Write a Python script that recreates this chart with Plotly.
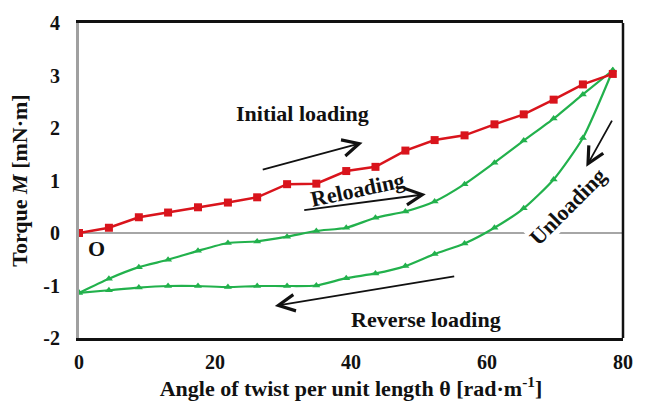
import plotly.graph_objects as go

# Twist angle per unit length (rad/m) at each measurement step
theta = [0, 4.4, 8.8, 13.1, 17.5, 21.9, 26.2, 30.6, 34.9, 39.3,
         43.6, 48.0, 52.3, 56.7, 61.1, 65.4, 69.8, 74.1, 78.5]

# Torque (mN·m) for each branch of the loading cycle
initial_loading = [0.00, 0.10, 0.30, 0.39, 0.49, 0.58, 0.68, 0.93, 0.94, 1.18,
                   1.26, 1.57, 1.77, 1.86, 2.07, 2.26, 2.54, 2.83, 3.03]
reloading = [-1.14, -0.87, -0.65, -0.51, -0.34, -0.19, -0.16, -0.07, 0.04, 0.10,
             0.29, 0.41, 0.60, 0.93, 1.34, 1.76, 2.18, 2.64, 3.10]
unload_reverse = [-1.14, -1.09, -1.04, -1.01, -1.01, -1.03, -1.01, -1.01, -1.00, -0.86,
                  -0.77, -0.63, -0.40, -0.20, 0.10, 0.47, 1.02, 1.81, 3.10]

RED = "#d9141c"
GREEN = "#22b14c"
FONT = "Liberation Serif"

fig = go.Figure()

fig.add_trace(go.Scatter(
    x=theta, y=unload_reverse, mode="lines+markers",
    line=dict(color=GREEN, width=2.2, shape="spline", smoothing=0.6),
    marker=dict(symbol="triangle-up", size=7, color=GREEN),
    showlegend=False, hoverinfo="skip"))
fig.add_trace(go.Scatter(
    x=theta, y=reloading, mode="lines+markers",
    line=dict(color=GREEN, width=2.2, shape="spline", smoothing=0.6),
    marker=dict(symbol="triangle-up", size=7, color=GREEN),
    showlegend=False, hoverinfo="skip"))
fig.add_trace(go.Scatter(
    x=theta, y=initial_loading, mode="lines+markers",
    line=dict(color=RED, width=2.5),
    marker=dict(symbol="square", size=8, color=RED),
    showlegend=False, hoverinfo="skip"))

# Branch labels: (text, x, y, angle)
labels = [
    ("Initial loading", 32.9, 2.27, 0),
    ("Reloading", 41.0, 0.83, -12),
    ("Unloading", 71.9, 0.50, -45),
    ("Reverse loading", 51.0, -1.64, 0),
    ("O", 2.6, -0.29, 0),
]
for txt, x, y, ang in labels:
    fig.add_annotation(x=x, y=y, xref="x", yref="y", text=f"<b>{txt}</b>",
                       showarrow=False, textangle=ang, borderpad=0,
                       bgcolor="white" if txt == "Unloading" else None,
                       font=dict(family=FONT, size=22, color="#111111"))

# Direction arrows: (tip x, tip y, tail x, tail y)
arrows = [
    (41.7, 1.72, 26.8, 1.20),
    (51.0, 0.74, 32.9, 0.43),
    (74.6, 1.26, 78.5, 2.17),
    (28.8, -1.39, 55.4, -0.82),
]
for tx, ty, sx, sy in arrows:
    fig.add_annotation(x=tx, y=ty, ax=sx, ay=sy, xref="x", yref="y",
                       axref="x", ayref="y", text="", showarrow=True,
                       arrowhead=5, arrowsize=1.8, arrowwidth=1.8,
                       arrowcolor="#111111")

# Right border of the frame
fig.add_shape(type="line", xref="paper", yref="paper", x0=1, x1=1, y0=0, y1=1,
              line=dict(color="#111111", width=2.5))

fig.update_layout(
    width=647, height=408,
    margin=dict(l=79, r=24, t=14, b=67),
    paper_bgcolor="white", plot_bgcolor="white",
    font=dict(family=FONT, size=20, color="#111111"),
    xaxis=dict(
        range=[0, 80], tickvals=[0, 20, 40, 60, 80],
        ticktext=["<b>0</b>", "<b>20</b>", "<b>40</b>", "<b>60</b>", "<b>80</b>"],
        showgrid=False, zeroline=False, ticks="", ticklabelstandoff=4,
        showline=True, linecolor="#111111", linewidth=2.5, mirror=True,
        title=dict(text="<b>Angle of twist per unit length θ [rad·m<sup>-1</sup>]</b>",
                   font=dict(size=22), standoff=8),
    ),
    yaxis=dict(
        range=[-2, 4], tickvals=[-2, -1, 0, 1, 2, 3, 4],
        ticktext=["<b>-2</b>", "<b>-1</b>", "<b>0</b>", "<b>1</b>",
                  "<b>2</b>", "<b>3</b>", "<b>4</b>"],
        showgrid=False, ticks="", ticklabelstandoff=12,
        zeroline=True, zerolinecolor="#a6a6a6", zerolinewidth=2,
        showline=True, linecolor="#a0a0a0", linewidth=3,
        title=dict(text="<b>Torque <i>M</i> [mN·m]</b>", font=dict(size=22), standoff=10),
    ),
)

fig.write_html("out.html")
